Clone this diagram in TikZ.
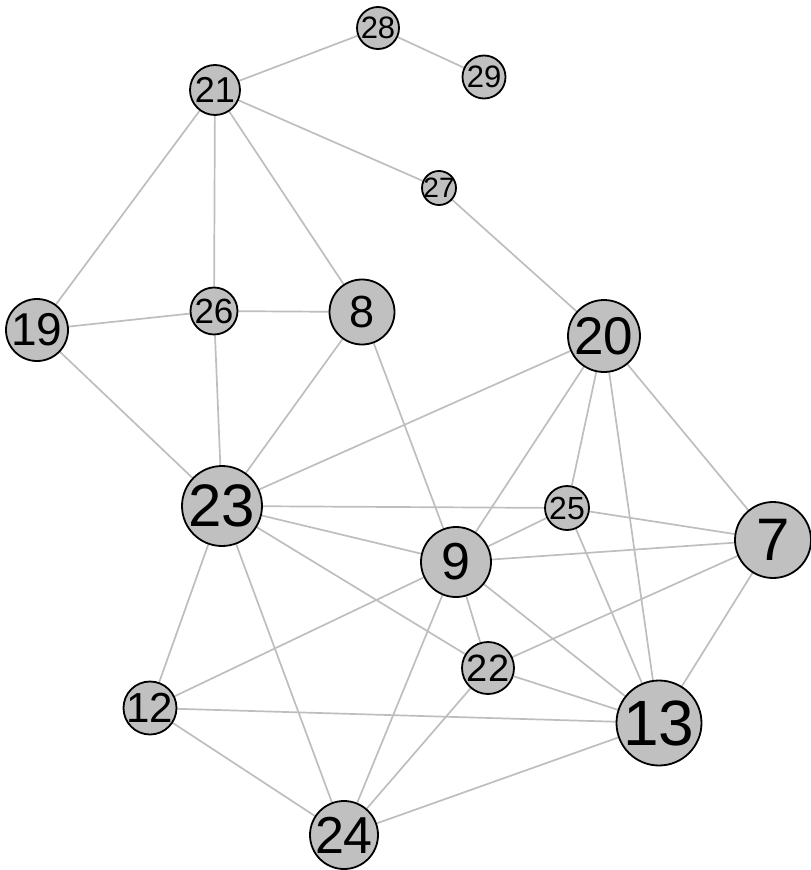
\documentclass[tikz,border=0pt]{standalone}
\usepackage{fontspec}
\setmainfont{Liberation Sans}
\usetikzlibrary{backgrounds}
\tikzset{
  vtx/.style args={#1/#2}{circle, draw=black, line width=1.8pt, fill=vgray, inner sep=0pt,
    minimum size=#1pt, label={[font=\fontsize{#2}{#2}\selectfont, inner sep=0pt]center:\vlabel}},
  edge/.style={draw=egray, line width=1.7pt}
}
\definecolor{vgray}{HTML}{C0C0C0}
\definecolor{egray}{HTML}{BEBEBE}
\newcommand{\vlabel}{}
\newcommand{\mkv}[5]{% name, x, y, diameter, fontsize
  \renewcommand{\vlabel}{#1}%
  \node[vtx=#4/#5] (v#1) at (#2,#3) {};}
\begin{document}
\begin{tikzpicture}[x=1pt,y=-1pt]
\useasboundingbox (0,0) rectangle (811,870);
\mkv{28}{378}{28}{42}{31}
\mkv{29}{484}{77}{43}{31}
\mkv{21}{215}{90}{50}{36}
\mkv{27}{439}{188}{34}{28}
\mkv{19}{37}{330}{62}{46}
\mkv{26}{214}{311}{47}{35}
\mkv{8}{362}{312}{65}{45}
\mkv{20}{604}{336}{72}{53}
\mkv{23}{222}{506}{80}{60}
\mkv{25}{567}{508}{44}{32}
\mkv{9}{456}{562}{70}{52}
\mkv{7}{773}{540}{76}{60}
\mkv{22}{488}{668}{52}{38}
\mkv{12}{150}{708}{53}{42}
\mkv{13}{659}{723}{85}{64}
\mkv{24}{344}{835}{68}{52}
\begin{scope}[on background layer]
\foreach \a/\b in {21/28, 28/29, 21/27, 21/19, 21/26, 21/8, 27/20, 19/26, 26/8,
  19/23, 26/23, 8/23, 8/9, 20/23, 20/9, 20/25, 20/13, 20/7, 23/25, 23/9, 23/22,
  23/12, 23/24, 25/9, 25/7, 25/13, 9/7, 9/12, 9/22, 9/13, 9/24, 7/22, 7/13,
  22/13, 22/24, 12/13, 12/24, 24/13}
  \draw[edge] (v\a) -- (v\b);
\end{scope}
\end{tikzpicture}
\end{document}
